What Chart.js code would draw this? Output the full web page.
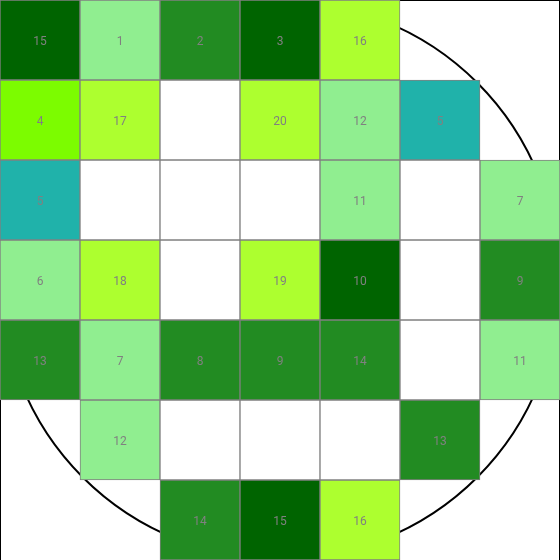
<!DOCTYPE html>
<html>
<head>
<meta charset="utf-8">
<script src="https://cdn.jsdelivr.net/npm/chart.js@4"></script>
<style>
html,body{margin:0;padding:0;background:#fff;}
#wrap{width:560px;height:560px;}
</style>
</head>
<body>
<div id="wrap"><canvas id="c" width="560" height="560"></canvas></div>
<script>
// Columns (x categories)
const columns = ['0','1','2','3','4','5','6'];
// Cell values per row (top to bottom). null = outside wafer (not drawn), 0 = empty die (white, no label)
const row0 = [15, 1, 2, 3, 16, null, null];
const row1 = [4, 17, 0, 20, 12, 5, null];
const row2 = [5, 0, 0, 0, 11, 0, 7];
const row3 = [6, 18, 0, 19, 10, 0, 9];
const row4 = [13, 7, 8, 9, 14, 0, 11];
const row5 = [null, 12, 0, 0, 0, 13, null];
const row6 = [null, null, 14, 15, 16, null, null];
const rows = [row0, row1, row2, row3, row4, row5, row6];

// Colours per value as seen in the picture
const valueColors = {
  0: '#ffffff',
  1: '#90ee90', 2: '#228b22', 3: '#006400', 4: '#7cfc00', 5: '#20b2aa',
  6: '#90ee90', 7: '#90ee90', 8: '#228b22', 9: '#228b22', 10: '#006400',
  11: '#90ee90', 12: '#90ee90', 13: '#228b22', 14: '#228b22', 15: '#006400',
  16: '#adff2f', 17: '#adff2f', 18: '#adff2f', 19: '#adff2f', 20: '#adff2f'
};

const datasets = rows.map((r, i) => ({
  label: 'row' + i,
  data: r.map(v => 1),
  cellValues: r,
  backgroundColor: r.map(v => v === null ? 'rgba(0,0,0,0)' : valueColors[v]),
  borderColor: r.map(v => v === null ? 'rgba(0,0,0,0)' : '#808080'),
  borderWidth: 1,
  borderSkipped: false,
  barPercentage: 1,
  categoryPercentage: 1,
  stack: 's'
}));

const waferPlugin = {
  id: 'wafer',
  beforeDatasetsDraw(chart) {
    const ctx = chart.ctx, a = chart.chartArea;
    const cx = (a.left + a.right) / 2, cy = (a.top + a.bottom) / 2;
    const r = (a.right - a.left) / 2;
    ctx.save();
    ctx.beginPath();
    ctx.arc(cx, cy, r - 1, 0, Math.PI * 2);
    ctx.lineWidth = 2;
    ctx.strokeStyle = '#000';
    ctx.stroke();
    ctx.beginPath();
    ctx.lineWidth = 2;
    ctx.moveTo(a.left, a.bottom);
    ctx.lineTo(a.left, a.top);
    ctx.lineTo(a.right, a.top);
    ctx.lineTo(a.right, a.bottom);
    ctx.stroke();
    ctx.restore();
  },
  afterDatasetsDraw(chart) {
    const ctx = chart.ctx;
    ctx.save();
    ctx.font = '12px Roboto, Arial, sans-serif';
    ctx.fillStyle = '#808080';
    ctx.textAlign = 'center';
    ctx.textBaseline = 'middle';
    chart.data.datasets.forEach((ds, di) => {
      const meta = chart.getDatasetMeta(di);
      meta.data.forEach((bar, j) => {
        const v = ds.cellValues[j];
        if (v === null || v === 0) return;
        const p = bar.getProps(['x', 'y', 'base'], true);
        ctx.fillText(String(v), p.x, (p.y + p.base) / 2 + 2);
      });
    });
    ctx.restore();
  }
};

new Chart(document.getElementById('c'), {
  type: 'bar',
  data: { labels: columns, datasets },
  options: {
    responsive: false,
    animation: false,
    layout: { padding: 0 },
    plugins: { legend: { display: false }, tooltip: { enabled: false } },
    scales: {
      x: { display: false, stacked: true, offset: true },
      y: { display: false, stacked: true, reverse: true, min: 0, max: 7 }
    }
  },
  plugins: [waferPlugin]
});
</script>
</body>
</html>
